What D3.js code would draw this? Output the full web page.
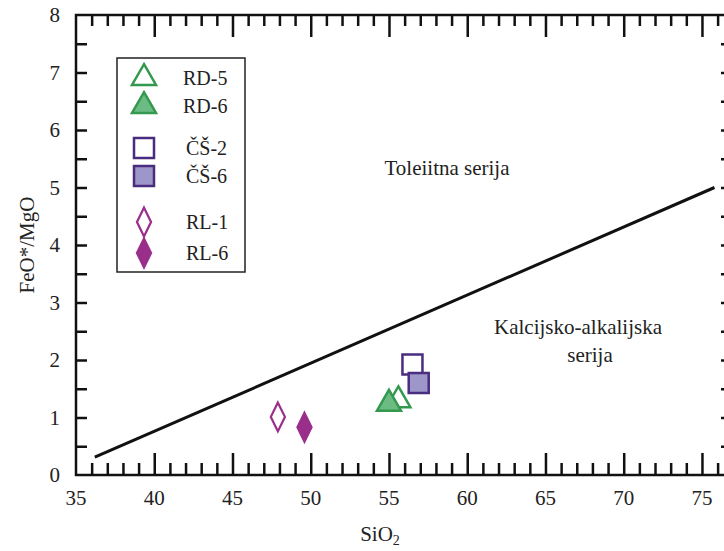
<!DOCTYPE html>
<html><head><meta charset="utf-8">
<script src="https://cdn.jsdelivr.net/npm/d3@7"></script>
<style>body{margin:0;background:#fff}svg{display:block}svg text{font-family:"Liberation Serif","Times New Roman",serif}</style>
</head><body>
<script>
// ---- data ----
const samples   = ["RD-5","RD-6","ČŠ-2","ČŠ-6","RL-1","RL-6"];
const sio2      = [55.6, 55.0, 56.5, 56.9, 47.9, 49.6];
const feoMgo    = [1.30, 1.24, 1.92, 1.60, 1.01, 0.83];
const shapes    = ["triangle","triangle","square","square","diamond","diamond"];
const filled    = [false, true, false, true, false, true];
const groupCol  = ["green","green","purple","purple","magenta","magenta"];
const lineX     = [36.2, 75.8];
const lineY     = [0.31, 5.0];
const xTicks    = [35,40,45,50,55,60,65,70,75];
const yTicks    = [0,1,2,3,4,5,6,7,8];
const fieldLabels = ["Toleiitna serija","Kalcijsko-alkalijska","serija"];

const W=724,H=551;
const FONT="'Liberation Serif', 'Times New Roman', Times, serif";
const svg=d3.select("body").append("svg").attr("width",W).attr("height",H)
  .attr("font-family",FONT).style("font-family",FONT);
const x=d3.scaleLinear().domain([35,76.6]).range([76,727]);
const y=d3.scaleLinear().domain([0,8]).range([475,15]);

const strokes={green:"#33994f",purple:"#4a2d80",magenta:"#9a2f8b"};
const fills={green:"#6cbb82",purple:"#9d96c9",magenta:"#9a2f8b"};
const symType={triangle:d3.symbolTriangle,square:d3.symbolSquare,diamond:d3.symbolDiamond};
const symSize={triangle:250,square:400,diamond:240};

const xMinor=d3.range(36,77,1).filter(v=>v%5!==0);
const xMajor=d3.range(40,77,5);
const yAll=d3.range(0.5,8,0.5);

// frame
svg.append("rect").attr("x",x(35)).attr("y",y(8)).attr("width",x(76.6)-x(35)).attr("height",y(0)-y(8))
 .attr("fill","none").attr("stroke","#111").attr("stroke-width",2.5);

function styleAxis(sel){
  sel.select(".domain").remove();
  sel.selectAll(".tick line").attr("stroke","#111").attr("stroke-width",2.5);
  sel.selectAll(".tick text").remove();
}
// inward ticks
svg.append("g").attr("transform",`translate(0,${y(0)})`)
 .call(d3.axisBottom(x).tickValues(xMinor).tickSize(-12).tickSizeOuter(0)).call(styleAxis);
svg.append("g").attr("transform",`translate(0,${y(0)})`)
 .call(d3.axisBottom(x).tickValues(xMajor).tickSize(-22).tickSizeOuter(0)).call(styleAxis);
svg.append("g").attr("transform",`translate(0,${y(8)})`)
 .call(d3.axisTop(x).tickValues(xMinor).tickSize(-11).tickSizeOuter(0)).call(styleAxis);
svg.append("g").attr("transform",`translate(0,${y(8)})`)
 .call(d3.axisTop(x).tickValues(xMajor).tickSize(-22).tickSizeOuter(0)).call(styleAxis);
svg.append("g").attr("transform",`translate(${x(35)},0)`)
 .call(d3.axisLeft(y).tickValues(yAll).tickSize(-11).tickSizeOuter(0)).call(styleAxis);
svg.append("g").attr("transform",`translate(${x(76.6)},0)`)
 .call(d3.axisRight(y).tickValues(yAll).tickSize(-6).tickSizeOuter(0)).call(styleAxis);

// tick labels
svg.selectAll(".xl").data(xTicks).enter().append("text")
 .attr("x",d=>x(d)).attr("y",505).attr("text-anchor","middle").attr("font-size",21).attr("fill","#222").text(d=>d);
svg.selectAll(".yl").data(yTicks).enter().append("text")
 .attr("x",60).attr("y",d=>y(d)+7).attr("text-anchor","end").attr("font-size",21).attr("fill","#222").text(d=>d);

// axis titles
const xt=svg.append("text").attr("x",380).attr("y",541).attr("text-anchor","middle").attr("font-size",21).attr("fill","#222");
xt.append("tspan").text("SiO");
xt.append("tspan").attr("font-size",14).attr("dy",4).text("2");
svg.append("text").attr("transform","translate(34,245) rotate(-90)").attr("text-anchor","middle")
 .attr("font-size",21).attr("fill","#222").text("FeO*/MgO");

// boundary line
svg.append("line").attr("x1",x(lineX[0])).attr("y1",y(lineY[0])).attr("x2",x(lineX[1])).attr("y2",y(lineY[1]))
 .attr("stroke","#111").attr("stroke-width",3);

// field labels
svg.append("text").attr("x",447).attr("y",175).attr("text-anchor","middle").attr("font-size",21).attr("fill","#222").text(fieldLabels[0]);
svg.append("text").attr("x",578).attr("y",334).attr("text-anchor","middle").attr("font-size",21).attr("fill","#222").text(fieldLabels[1]);
svg.append("text").attr("x",590).attr("y",362).attr("text-anchor","middle").attr("font-size",21).attr("fill","#222").text(fieldLabels[2]);

// points
const idx=d3.range(samples.length);
svg.selectAll(".pt").data(idx).enter().append("path")
 .attr("transform",i=>`translate(${x(sio2[i])},${y(feoMgo[i])})`+(shapes[i]==="diamond"?" scale(0.85,1)":""))
 .attr("d",i=>d3.symbol(symType[shapes[i]],symSize[shapes[i]])())
 .attr("fill",i=>filled[i]?fills[groupCol[i]]:"#fff")
 .attr("stroke",i=>strokes[groupCol[i]]).attr("stroke-width",2.5);

// legend
svg.append("rect").attr("x",117).attr("y",58).attr("width",128).attr("height",214)
 .attr("fill","#fff").attr("stroke","#222").attr("stroke-width",1.5);
const legY=[78,106,148,176,222,253];
const lg=svg.selectAll(".lg").data(idx).enter().append("g").attr("transform",i=>`translate(0,${legY[i]})`);
lg.append("path")
 .attr("transform",i=>`translate(144,0)`+(shapes[i]==="diamond"?" scale(0.85,1)":""))
 .attr("d",i=>d3.symbol(symType[shapes[i]],symSize[shapes[i]])())
 .attr("fill",i=>filled[i]?fills[groupCol[i]]:"#fff")
 .attr("stroke",i=>strokes[groupCol[i]]).attr("stroke-width",2.5);
lg.append("text").attr("x",i=>shapes[i]==="triangle"?183:186).attr("y",7).attr("font-size",20).attr("fill","#222").text(i=>samples[i]);
</script>
</body></html>
